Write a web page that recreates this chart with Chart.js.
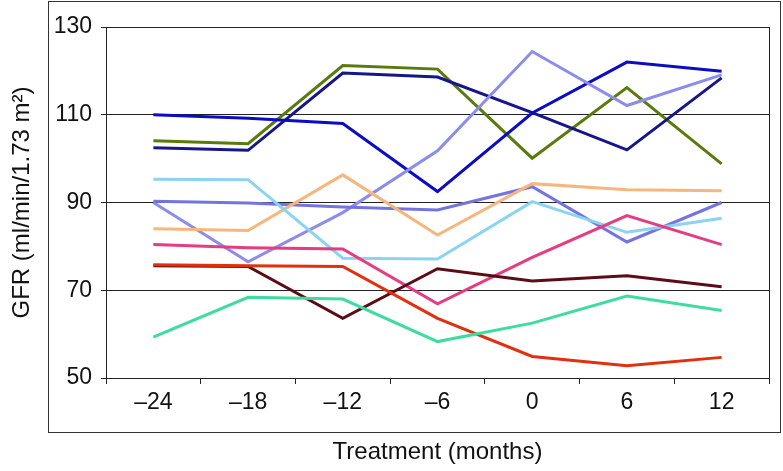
<!DOCTYPE html>
<html>
<head>
<meta charset="utf-8">
<script src="https://cdn.jsdelivr.net/npm/chart.js@4/dist/chart.umd.min.js"></script>
<style>
  html, body { margin: 0; padding: 0; background: #fff; }
  canvas { display: block; }
</style>
</head>
<body>
<canvas id="c" width="783" height="471"></canvas>
<script>
// time points (months relative to treatment start)
const months = ['–24', '–18', '–12', '–6', '0', '6', '12'];

// GFR per patient
const olive     = [104.1, 103.4, 121.2, 120.4, 100.1, 116.2, 98.8];
const navy      = [102.5, 101.9, 119.5, 118.6, 110.5, 102.0, 118.4];
const blue      = [110.0, 109.2, 108.0, 92.5, 110.4, 122.0, 119.9];
const lilac     = [90.0, 76.5, 87.7, 101.8, 124.4, 112.1, 119.1];
const slate     = [90.3, 89.9, 89.0, 88.3, 93.6, 81.0, 90.0];
const apricot   = [84.0, 83.6, 96.3, 82.6, 94.3, 92.9, 92.7];
const sky       = [95.3, 95.2, 77.3, 77.1, 90.2, 83.2, 86.4];
const pink      = [80.4, 79.7, 79.4, 66.9, 77.5, 87.0, 80.4];
const maroon    = [75.6, 75.4, 63.6, 74.9, 72.1, 73.3, 70.8];
const red       = [75.8, 75.6, 75.4, 63.6, 54.9, 52.8, 54.7];
const turquoise = [59.3, 68.4, 68.0, 58.3, 62.5, 68.7, 65.4];

const yTicks = [50, 70, 90, 110, 130];

const FONT = "'Liberation Sans', Arial, Helvetica, sans-serif";

function line(data, color) {
    return {
        data: data,
        borderColor: color,
        backgroundColor: color,
        borderWidth: 3,
        pointRadius: 0,
        tension: 0,
        fill: false
    };
}

// outer frame + box around the plot area
const framePlugin = {
    id: 'frame',
    afterDraw(chart) {
        const ctx = chart.ctx;
        const a = chart.chartArea;
        ctx.save();
        ctx.strokeStyle = '#333';
        ctx.lineWidth = 1;
        ctx.strokeRect(48.5, 1.5, 732, 431);
        ctx.strokeStyle = '#222';
        ctx.strokeRect(Math.round(a.left) + 0.5, Math.round(a.top) + 0.5,
            Math.round(a.right - a.left), Math.round(a.bottom - a.top));
        ctx.restore();
    }
};

new Chart(document.getElementById('c'), {
    type: 'line',
    data: {
        labels: months,
        datasets: [
            line(turquoise, '#3fdca0'),
            line(red, '#e2300e'),
            line(maroon, '#5c0c16'),
            line(pink, '#e63c80'),
            line(sky, '#8ad4f2'),
            line(apricot, '#f7b67e'),
            line(slate, '#7474e0'),
            line(lilac, '#8c8cec'),
            line(blue, '#0c0cc4'),
            line(navy, '#16168c'),
            line(olive, '#5a7a0c')
        ]
    },
    options: {
        responsive: false,
        animation: false,
        devicePixelRatio: 1,
        layout: { padding: { left: 8, right: 14, top: 27, bottom: 4 } },
        plugins: {
            legend: { display: false },
            tooltip: { enabled: false }
        },
        scales: {
            x: {
                offset: true,
                grid: {
                    offset: true,
                    drawOnChartArea: false,
                    tickLength: 6,
                    color: '#222'
                },
                border: { color: '#222', width: 1 },
                ticks: {
                    color: '#111',
                    padding: 5,
                    maxRotation: 0,
                    font: { family: FONT, size: 23 }
                },
                title: {
                    display: true,
                    text: 'Treatment (months)',
                    color: '#111',
                    padding: 0,
                    font: { family: FONT, size: 24 }
                },
                afterFit(scale) { scale.height = 89; }
            },
            y: {
                min: 50,
                max: 130,
                afterBuildTicks(scale) {
                    scale.ticks = yTicks.map(v => ({ value: v }));
                },
                grid: {
                    color: '#222',
                    lineWidth: 1,
                    tickLength: 5
                },
                border: { color: '#222', width: 1 },
                ticks: {
                    color: '#111',
                    padding: 9,
                    font: { family: FONT, size: 23 }
                },
                title: {
                    display: true,
                    text: 'GFR (ml/min/1.73 m²)',
                    color: '#111',
                    padding: 0,
                    font: { family: FONT, size: 24 }
                },
                afterFit(scale) { scale.width = 98; }
            }
        }
    },
    plugins: [framePlugin]
});
</script>
</body>
</html>
